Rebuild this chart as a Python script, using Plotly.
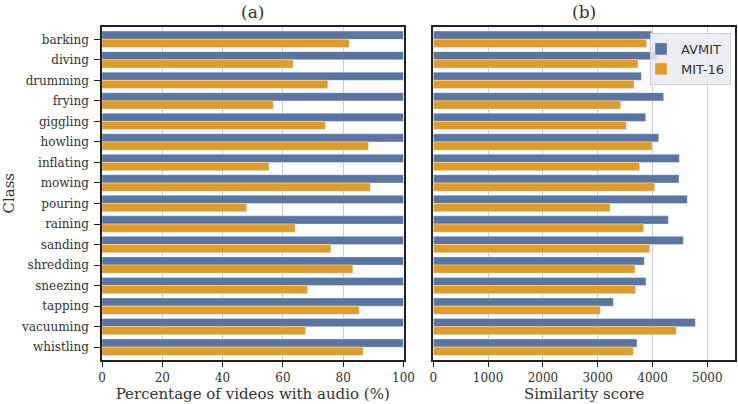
import plotly.graph_objects as go
from plotly.subplots import make_subplots

classes = ["barking", "diving", "drumming", "frying", "giggling", "howling",
           "inflating", "mowing", "pouring", "raining", "sanding", "shredding",
           "sneezing", "tapping", "vacuuming", "whistling"]

pct_avmit = [100] * 16
pct_mit16 = [82.0, 63.4, 74.9, 56.8, 74.1, 88.4, 55.4, 89.0,
             48.0, 64.1, 75.9, 83.2, 68.2, 85.3, 67.5, 86.6]

sim_avmit = [3985, 4088, 3796, 4204, 3876, 4113, 4489, 4483,
             4635, 4289, 4562, 3851, 3881, 3285, 4781, 3717]
sim_mit16 = [3894, 3735, 3662, 3419, 3522, 3991, 3766, 4040,
             3225, 3839, 3949, 3681, 3693, 3047, 4434, 3650]

BLUE = "#5975A4"
ORANGE = "#E09C26"
SERIF = "DejaVu Serif"
SANS = "DejaVu Sans"
TXT = "#333333"

fig = make_subplots(rows=1, cols=2, shared_yaxes=False)

bar_line = dict(color="rgba(255,255,255,0.6)", width=0.6)

fig.add_trace(go.Bar(y=classes, x=pct_avmit, orientation="h", name="AVMIT",
                     marker=dict(color=BLUE, line=bar_line), showlegend=False,
                     offsetgroup="a"), row=1, col=1)
fig.add_trace(go.Bar(y=classes, x=pct_mit16, orientation="h", name="MIT-16",
                     marker=dict(color=ORANGE, line=bar_line), showlegend=False,
                     offsetgroup="b"), row=1, col=1)
fig.add_trace(go.Bar(y=classes, x=sim_avmit, orientation="h", name="AVMIT",
                     marker=dict(color=BLUE, line=bar_line), showlegend=True,
                     offsetgroup="a"), row=1, col=2)
fig.add_trace(go.Bar(y=classes, x=sim_mit16, orientation="h", name="MIT-16",
                     marker=dict(color=ORANGE, line=bar_line), showlegend=True,
                     offsetgroup="b"), row=1, col=2)

ydom = [(404 - 359.5) / 404, (404 - 27) / 404]

common_x = dict(showgrid=True, gridcolor="#cccccc", gridwidth=1,
                showline=True, linecolor="#222222", linewidth=1.5, mirror=True,
                ticks="outside", ticklen=6, tickwidth=1.2, tickcolor="#222222",
                tickfont=dict(family=SERIF, size=12, color=TXT),
                zeroline=False, automargin=False)

fig.update_xaxes(domain=[102 / 738, 403.5 / 738], range=[0, 100], dtick=20,
                 title=dict(text="Percentage of videos with audio (%)",
                            font=dict(family=SERIF, size=15, color=TXT),
                            standoff=4),
                 row=1, col=1, **common_x)
fig.update_xaxes(domain=[433.3 / 738, 735 / 738], range=[0, 5505], dtick=1000,
                 title=dict(text="Similarity score",
                            font=dict(family=SERIF, size=15, color=TXT),
                            standoff=4),
                 row=1, col=2, **common_x)

fig.update_yaxes(domain=ydom, range=[15.6, -0.6], categoryorder="array",
                 categoryarray=classes, showgrid=False, automargin=False,
                 showline=True, linecolor="#222222", linewidth=1.5, mirror=True,
                 ticks="outside", ticklen=6, tickwidth=1.2, tickcolor="#222222",
                 ticklabelstandoff=3,
                 tickfont=dict(family=SERIF, size=12, color=TXT),
                 title=dict(text="Class", font=dict(family=SERIF, size=15, color=TXT),
                            standoff=6),
                 row=1, col=1)
fig.update_yaxes(domain=ydom, range=[15.6, -0.6], categoryorder="array",
                 categoryarray=classes, showgrid=False, showticklabels=False,
                 automargin=False,
                 showline=True, linecolor="#222222", linewidth=1.5, mirror=True,
                 ticks="", row=1, col=2)

fig.add_annotation(text="(a)", x=(102 + 403.5) / 2 / 738, y=(404 - 12) / 404,
                   xref="paper", yref="paper", showarrow=False,
                   font=dict(family=SERIF, size=17, color=TXT),
                   xanchor="center", yanchor="middle")
fig.add_annotation(text="(b)", x=(433.3 + 735) / 2 / 738, y=(404 - 12) / 404,
                   xref="paper", yref="paper", showarrow=False,
                   font=dict(family=SERIF, size=17, color=TXT),
                   xanchor="center", yanchor="middle")

fig.update_layout(
    width=738, height=404,
    margin=dict(l=0, r=0, t=0, b=0),
    paper_bgcolor="white", plot_bgcolor="white",
    barmode="group", bargap=0.2, bargroupgap=0,
    legend=dict(x=731 / 738, y=(404 - 33) / 404, xanchor="right", yanchor="top",
                bgcolor="rgba(234,234,242,0.85)", bordercolor="#d0d0d8", borderwidth=1,
                font=dict(family=SANS, size=13, color=TXT),
                itemwidth=30, tracegroupgap=0, indentation=-10),
)

fig.write_html("out.html", config={"displayModeBar": False},
               post_script="document.body.style.margin='0';document.body.style.padding='0';")
